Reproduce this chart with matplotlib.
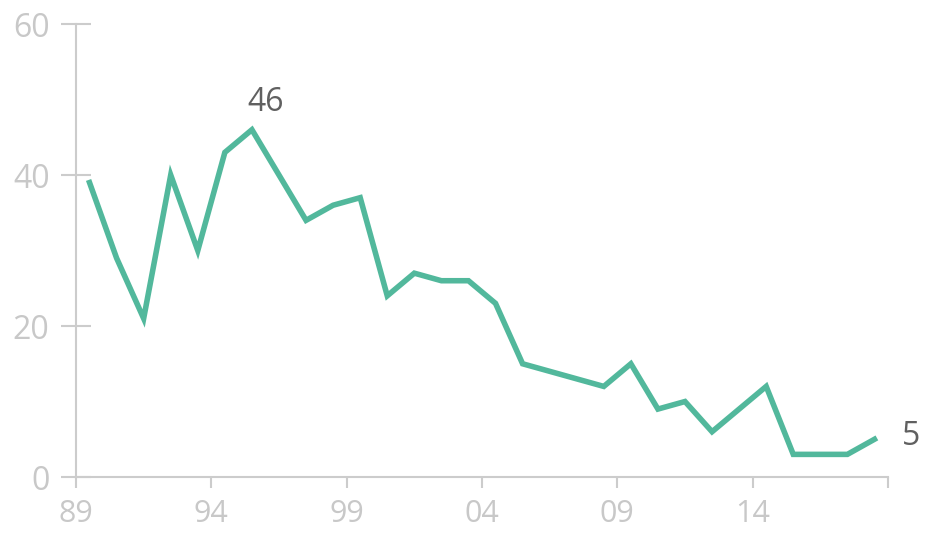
import matplotlib.pyplot as plt
import numpy as np

years = list(range(1989, 2019))
values = [39, 29, 21, 40, 30, 43, 46, 40, 34, 36, 37, 24, 27, 26, 26, 23,
          15, 14, 13, 12, 15, 9, 10, 6, 9, 12, 3, 3, 3, 5]
tick_years = [1989, 1994, 1999, 2004, 2009, 2014, 2019]
tick_labels = ['89', '94', '99', '04', '09', '14', '']

plt.rcParams['font.family'] = ['Open Sans', 'DejaVu Sans']

fig = plt.figure(figsize=(9.37, 5.34), dpi=100)
ax = fig.add_axes([0.0811, 0.1067, 0.8666, 0.8483])

x = np.array(years) + 0.5
ax.plot(x, values, color='#52b89c', linewidth=4, solid_joinstyle='miter')

ax.set_xlim(1989, 2019)
ax.set_ylim(0, 60)
ax.set_xticks(tick_years)
ax.set_xticklabels(tick_labels)
ax.set_yticks([0, 20, 40, 60])

grey = '#cccccc'
for s in ['top', 'right']:
    ax.spines[s].set_visible(False)
for s in ['left', 'bottom']:
    ax.spines[s].set_color(grey)
    ax.spines[s].set_linewidth(1.5)
ax.tick_params(axis='x', direction='out', length=8, width=1.5, color=grey,
               labelcolor='#c8c8c8', labelsize=22, pad=8)
ax.tick_params(axis='y', direction='inout', length=22, width=1.5, color=grey,
               labelcolor='#c8c8c8', labelsize=23, pad=8)

# label peak and last value
i_max = int(np.argmax(values))
ax.annotate(str(values[i_max]), (x[i_max], values[i_max]), xytext=(10, 8),
            textcoords='offset points', ha='center', va='bottom',
            fontsize=23, color='#606060')
ax.annotate(str(values[-1]), (x[-1], values[-1]), xytext=(20, 2),
            textcoords='offset points', ha='left', va='center',
            fontsize=23, color='#606060')

plt.savefig('out.png', dpi=100)
